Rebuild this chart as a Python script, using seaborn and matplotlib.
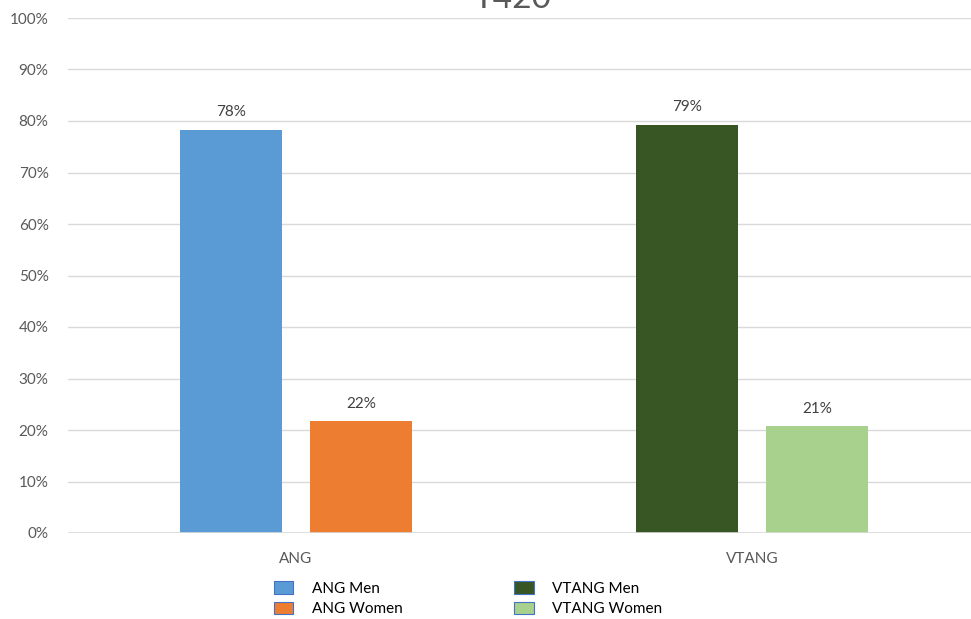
import matplotlib
matplotlib.use("Agg")
import matplotlib.pyplot as plt
import seaborn as sns
import pandas as pd
from matplotlib.patches import Patch

categories = ["ANG", "ANG", "VTANG", "VTANG"]
genders = ["Men", "Women", "Men", "Women"]
values = [78.3, 21.7, 79.3, 20.7]
series_names = ["ANG Men", "ANG Women", "VTANG Men", "VTANG Women"]
colors = ["#5B9BD5", "#ED7D31", "#375623", "#A9D18E"]
title = "T420"

df = pd.DataFrame({"cat": categories, "gender": genders, "value": values})

sns.set_style("white")
plt.rcParams["font.family"] = ["Lato", "DejaVu Sans"]

fig = plt.figure(figsize=(9.71, 6.19), dpi=100)
ax = fig.add_axes([68 / 971, 86 / 619, 912 / 971, 515 / 619])

sns.barplot(data=df, x="cat", y="value", hue="gender", ax=ax,
            width=0.57, gap=0.208, legend=False, errorbar=None)

# color each bar individually (order: hue Men bars, then Women bars)
bars = ax.patches
order = [0, 2, 1, 3]
for patch, idx in zip(bars, order):
    patch.set_facecolor(colors[idx])
    patch.set_edgecolor("none")
    ax.text(patch.get_x() + patch.get_width() / 2, patch.get_height() + 2,
            f"{round(values[idx])}%", ha="center", va="bottom",
            fontsize=11, color="#404040")

ax.set_ylim(0, 100)
ax.set_yticks(range(0, 101, 10))
ax.set_yticklabels([f"{v}%" for v in range(0, 101, 10)])
ax.yaxis.grid(True, color="#D9D9D9", linewidth=1)
ax.set_axisbelow(True)
for s in ax.spines.values():
    s.set_visible(False)
ax.axhline(0, color="#D9D9D9", linewidth=1.2)
ax.tick_params(axis="both", length=0, labelsize=11, colors="#595959", pad=14)
ax.tick_params(axis="x", pad=14)
ax.set_xlabel("")
ax.set_ylabel("")

fig.text(0.528, 1 - 8 / 619, title, ha="center", va="baseline",
         fontsize=24, color="#595959")

handles = [Patch(facecolor=c, edgecolor="#4472C4", linewidth=0.8) for c in colors]
fig.legend(handles, series_names, loc="lower center", ncol=2,
           bbox_to_anchor=(0.482, -0.018), frameon=False, fontsize=11,
           handlelength=1.3, handleheight=0.9, columnspacing=7.3,
           labelspacing=0.4, handletextpad=1.2, labelcolor="#000000")

fig.savefig("out.png", dpi=100)
